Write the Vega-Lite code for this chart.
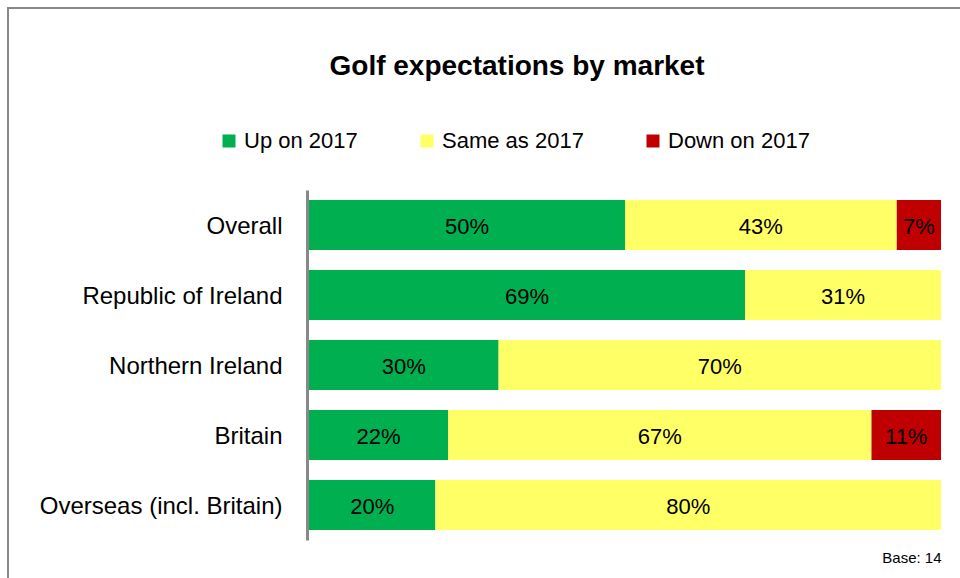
{
  "$schema": "https://vega.github.io/schema/vega-lite/v6.json",
  "width": 960,
  "height": 580,
  "autosize": "none",
  "padding": {"left": 8, "top": 8, "right": 0, "bottom": 0},
  "background": "white",
  "title": {
    "text": "Golf expectations by market",
    "anchor": "middle",
    "font": "Liberation Sans",
    "fontSize": 28,
    "fontWeight": "bold",
    "color": "black",
    "baseline": "alphabetic",
    "offset": 0,
    "dx": 29,
    "dy": 95
  },
  "data": {
    "values": [
      {"market": "Overall", "status": "Up on 2017", "pct": 0.50},
      {"market": "Overall", "status": "Same as 2017", "pct": 0.43},
      {"market": "Overall", "status": "Down on 2017", "pct": 0.07},
      {"market": "Republic of Ireland", "status": "Up on 2017", "pct": 0.69},
      {"market": "Republic of Ireland", "status": "Same as 2017", "pct": 0.31},
      {"market": "Northern Ireland", "status": "Up on 2017", "pct": 0.30},
      {"market": "Northern Ireland", "status": "Same as 2017", "pct": 0.70},
      {"market": "Britain", "status": "Up on 2017", "pct": 0.22},
      {"market": "Britain", "status": "Same as 2017", "pct": 0.67},
      {"market": "Britain", "status": "Down on 2017", "pct": 0.11},
      {"market": "Overseas (incl. Britain)", "status": "Up on 2017", "pct": 0.20},
      {"market": "Overseas (incl. Britain)", "status": "Same as 2017", "pct": 0.80}
    ]
  },
  "transform": [
    {"stack": "pct", "groupby": ["market"], "sort": [{"field": "status", "order": "descending"}], "as": ["x0", "x1"]},
    {"calculate": "(datum.x0 + datum.x1) / 2", "as": "xm"}
  ],
  "encoding": {
    "y": {
      "field": "market",
      "type": "nominal",
      "sort": ["Overall", "Republic of Ireland", "Northern Ireland", "Britain", "Overseas (incl. Britain)"],
      "scale": {"range": [182, 532], "paddingInner": 0.2857, "paddingOuter": 0.1429},
      "axis": {
        "title": null,
        "offset": -299,
        "domainColor": "#888888",
        "domainWidth": 3,
        "ticks": false,
        "tickSize": 0,
        "grid": false,
        "labelPadding": 25,
        "labelLimit": 0,
        "labelFont": "Liberation Sans",
        "labelFontSize": 24,
        "labelColor": "black",
        "labelOffset": 2
      }
    }
  },
  "layer": [
    {
      "mark": {"type": "bar"},
      "encoding": {
        "x": {
          "field": "x0",
          "type": "quantitative",
          "scale": {"domain": [0, 1], "range": [301, 933]},
          "axis": {
            "orient": "bottom",
            "title": "Base: 14",
            "domain": false,
            "ticks": false,
            "labels": false,
            "grid": false,
            "offset": -38,
            "titlePadding": 0,
            "titleAnchor": "end",
            "titleFont": "Liberation Sans",
            "titleFontSize": 15,
            "titleFontWeight": "normal",
            "titleColor": "black"
          }
        },
        "x2": {"field": "x1"},
        "color": {
          "field": "status",
          "type": "nominal",
          "scale": {
            "domain": ["Up on 2017", "Same as 2017", "Down on 2017"],
            "range": ["#00B050", "#FFFF66", "#C00000"]
          },
          "legend": {
            "orient": "none",
            "direction": "horizontal",
            "legendX": 210,
            "legendY": 122,
            "title": null,
            "symbolType": "square",
            "symbolSize": 169,
            "symbolStrokeWidth": 0,
            "labelFont": "Liberation Sans",
            "labelFontSize": 22,
            "labelColor": "black",
            "labelOffset": 4,
            "columnPadding": 58
          }
        }
      }
    },
    {
      "mark": {"type": "text", "font": "Liberation Sans", "fontSize": 22, "color": "black", "dy": 2},
      "encoding": {
        "x": {"field": "xm", "type": "quantitative"},
        "text": {"field": "pct", "type": "quantitative", "format": ".0%"}
      }
    }
  ],
  "config": {
    "view": {"stroke": "#888888", "strokeWidth": 2},
    "font": "Liberation Sans"
  }
}
